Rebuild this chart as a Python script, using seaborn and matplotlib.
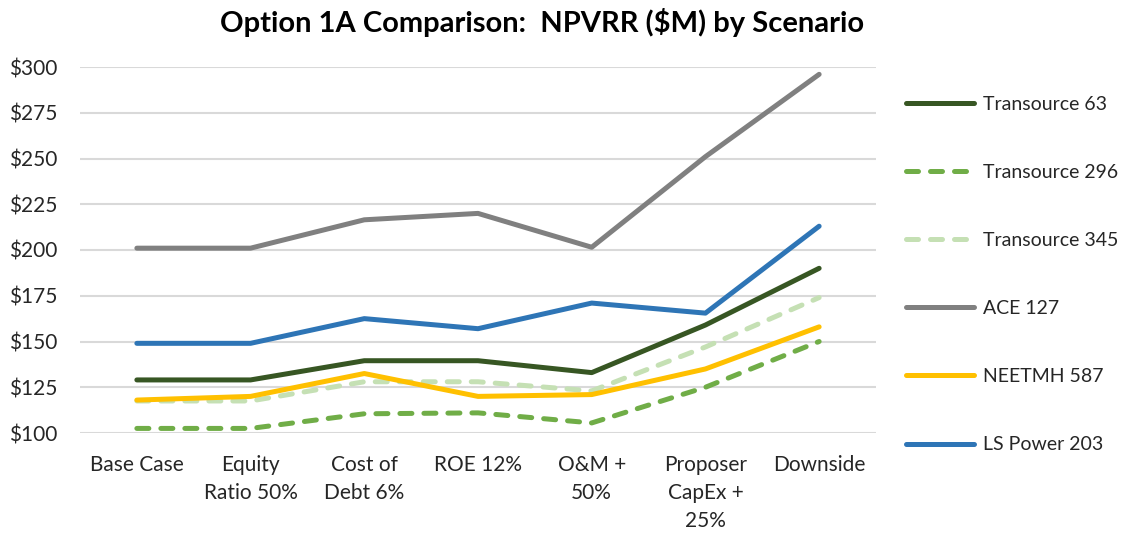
import pandas as pd
import matplotlib
matplotlib.use("Agg")
import matplotlib.pyplot as plt
from matplotlib.lines import Line2D
import seaborn as sns

# --- data ---
scenarios = ["Base Case", "Equity\nRatio 50%", "Cost of\nDebt 6%", "ROE 12%",
             "O&M +\n50%", "Proposer\nCapEx +\n25%", "Downside"]
series_names = ["Transource 63", "Transource 296", "Transource 345",
                "ACE 127", "NEETMH 587", "LS Power 203"]
transource_63 = [129, 129, 139.5, 139.5, 133, 159, 190]
transource_296 = [102.5, 102.5, 110.5, 111, 105.5, 125, 150]
transource_345 = [117.5, 117.5, 128, 128, 123, 147, 174]
ace_127 = [201, 201, 216.5, 220, 201.5, 251, 296]
neetmh_587 = [118, 120, 132.5, 120, 121, 135, 158]
ls_power_203 = [149, 149, 162.5, 157, 171, 165.5, 213]

colors = ["#375623", "#70AD47", "#C5E0B4", "#808080", "#FFC000", "#2E75B6"]
dashed = [False, True, True, False, False, False]

values = [transource_63, transource_296, transource_345, ace_127, neetmh_587, ls_power_203]
df = pd.DataFrame({
    "scenario": [s for _ in series_names for s in scenarios],
    "x": [i for _ in series_names for i in range(len(scenarios))],
    "series": [n for n in series_names for _ in scenarios],
    "value": [v for vals in values for v in vals],
})

sns.set_theme(style="white")
plt.rcParams["font.family"] = ["Lato", "DejaVu Sans"]

fig = plt.figure(figsize=(11.21, 5.33), dpi=100)
ax = fig.add_axes([80 / 1121, 100 / 533, 796 / 1121, 366 / 533])

lw = 3.6
dash_pat = (0, (2.4, 2.4))
for name, col, dsh in zip(series_names, colors, dashed):
    sub = df[df["series"] == name]
    sns.lineplot(data=sub, x="x", y="value", ax=ax, color=col, linewidth=lw,
                 linestyle=dash_pat if dsh else "-", legend=False,
                 solid_capstyle="round", dash_capstyle="round", zorder=3)

ax.set_xlim(-0.5, 6.5)
ax.set_ylim(100, 300)
ax.set_yticks(range(100, 301, 25))
ax.set_yticklabels([f"${v}" for v in range(100, 301, 25)])
ax.set_xticks(range(len(scenarios)))
ax.set_xticklabels(scenarios, linespacing=1.5)
ax.tick_params(axis="both", labelsize=15, colors="#262626", length=0)
ax.tick_params(axis="x", pad=16)
ax.tick_params(axis="y", pad=16.5)
ax.set_xlabel("")
ax.set_ylabel("")
ax.grid(axis="y", color="#D9D9D9", linewidth=1.5, zorder=0)
ax.grid(axis="x", visible=False)
for sp in ax.spines.values():
    sp.set_visible(False)

fig.text(542 / 1121, 1 - 22 / 533, "Option 1A Comparison:  NPVRR ($M) by Scenario",
         ha="center", va="center", fontsize=21, fontweight="bold", color="#000000")

handles = [Line2D([0], [0], color=c, linewidth=lw,
                  linestyle=dash_pat if d else "-",
                  solid_capstyle="round", dash_capstyle="round")
           for c, d in zip(colors, dashed)]
leg = fig.legend(handles, series_names, loc="upper left",
                 bbox_to_anchor=(896 / 1121, 1 - 86 / 533), frameon=False,
                 fontsize=14, handlelength=3.5, handletextpad=0.45,
                 labelspacing=2.63, borderpad=0)
for t in leg.get_texts():
    t.set_color("#262626")

fig.savefig("out.png", dpi=100)
